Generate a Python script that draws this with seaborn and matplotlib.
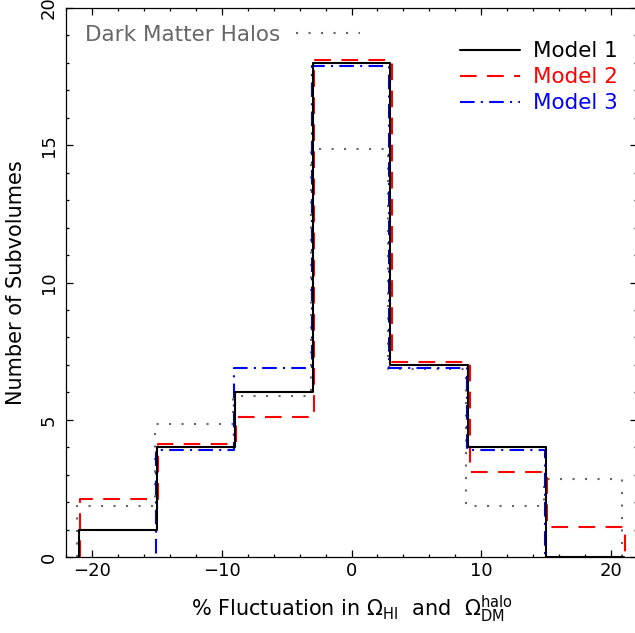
import seaborn as sns
import numpy as np
import pandas as pd
import matplotlib.pyplot as plt
from matplotlib.ticker import MultipleLocator
from matplotlib.lines import Line2D

# bin edges in % fluctuation and counts per bin
edges = [-21, -15, -9, -3, 3, 9, 15, 21]
model1 = [1, 4, 6, 18, 7, 4, 0]
model2 = [2, 4, 5, 18, 7, 3, 1]
model3 = [0, 4, 7, 18, 7, 4, 0]
halos = [2, 5, 6, 15, 7, 2, 3]


def steps(edges, counts, dx, dy):
    # outline of histogram, small shift so overlapping lines stay visible
    xs = [edges[0] + dx]
    ys = [0]
    for i in range(len(counts)):
        xs += [edges[i] + dx, edges[i + 1] + dx]
        ys += [counts[i] + dy, counts[i] + dy]
    xs.append(edges[-1] + dx)
    ys.append(0)
    return pd.DataFrame({'x': xs, 'y': ys})


sns.set_style('ticks')
plt.rcParams['font.family'] = ['DejaVu Sans']
plt.rcParams['text.color'] = 'black'
plt.rcParams['axes.labelcolor'] = 'black'

fig = plt.figure(figsize=(6.35, 6.33), dpi=100)
ax = fig.add_axes([66 / 635, 76 / 633, 571 / 635, 549 / 633])

gray = '#666666'
series = [
    (halos, -0.15, -0.15, gray, (0, (1, 5))),
    (model2, 0.1, 0.1, 'red', (0, (8, 5))),
    (model3, -0.08, -0.1, 'blue', (0, (7, 3, 1, 3))),
    (model1, 0, 0, 'black', '-'),
]
for counts, dx, dy, col, ls in series:
    d = steps(edges, counts, dx, dy)
    sns.lineplot(data=d, x='x', y='y', sort=False, estimator=None,
                 color=col, linestyle=ls, linewidth=1.5, ax=ax)

ax.set_xlim(-22, 22)
ax.set_ylim(0, 20)
ax.xaxis.set_major_locator(MultipleLocator(10))
ax.xaxis.set_minor_locator(MultipleLocator(2))
ax.yaxis.set_major_locator(MultipleLocator(5))
ax.yaxis.set_minor_locator(MultipleLocator(1))
ax.tick_params(which='both', direction='in', top=True, right=True,
               width=0.9, colors='black', labelcolor='black', labelsize=13)
ax.tick_params(which='major', length=5)
ax.tick_params(which='minor', length=2.5)
ax.tick_params(axis='y', labelrotation=90, pad=6)
for lab in ax.get_yticklabels():
    lab.set_va('center')
for s in ax.spines.values():
    s.set_linewidth(0.9)
    s.set_color('black')

ax.set_xlabel(r'% Fluctuation in $\Omega_{\rm HI}$  and  $\Omega_{\rm DM}^{\rm halo}$',
              fontsize=15, labelpad=10, color='black')
ax.set_ylabel('Number of Subvolumes', fontsize=15, labelpad=10, color='black')

h = [Line2D([], [], color='black', lw=1.5, ls='-'),
     Line2D([], [], color='red', lw=1.5, ls=(0, (8, 5))),
     Line2D([], [], color='blue', lw=1.5, ls=(0, (7, 3, 1, 3)))]
leg = ax.legend(h, ['Model 1', 'Model 2', 'Model 3'], loc='upper right',
                frameon=False, fontsize=15.5, handlelength=2.8,
                handletextpad=0.6, labelspacing=0.28,
                bbox_to_anchor=(1.0, 0.975))
for t, c in zip(leg.get_texts(), ['black', 'red', 'blue']):
    t.set_color(c)
ax.add_artist(leg)

leg2 = ax.legend([Line2D([], [], color=gray, lw=1.5, ls=(0, (1, 5)))],
                 ['Dark Matter Halos'], loc='upper left', frameon=False,
                 fontsize=15.5, markerfirst=False, handlelength=3.0,
                 handletextpad=0.7, bbox_to_anchor=(0.0, 1.005))
leg2.get_texts()[0].set_color(gray)

plt.savefig('out.png', dpi=100)
